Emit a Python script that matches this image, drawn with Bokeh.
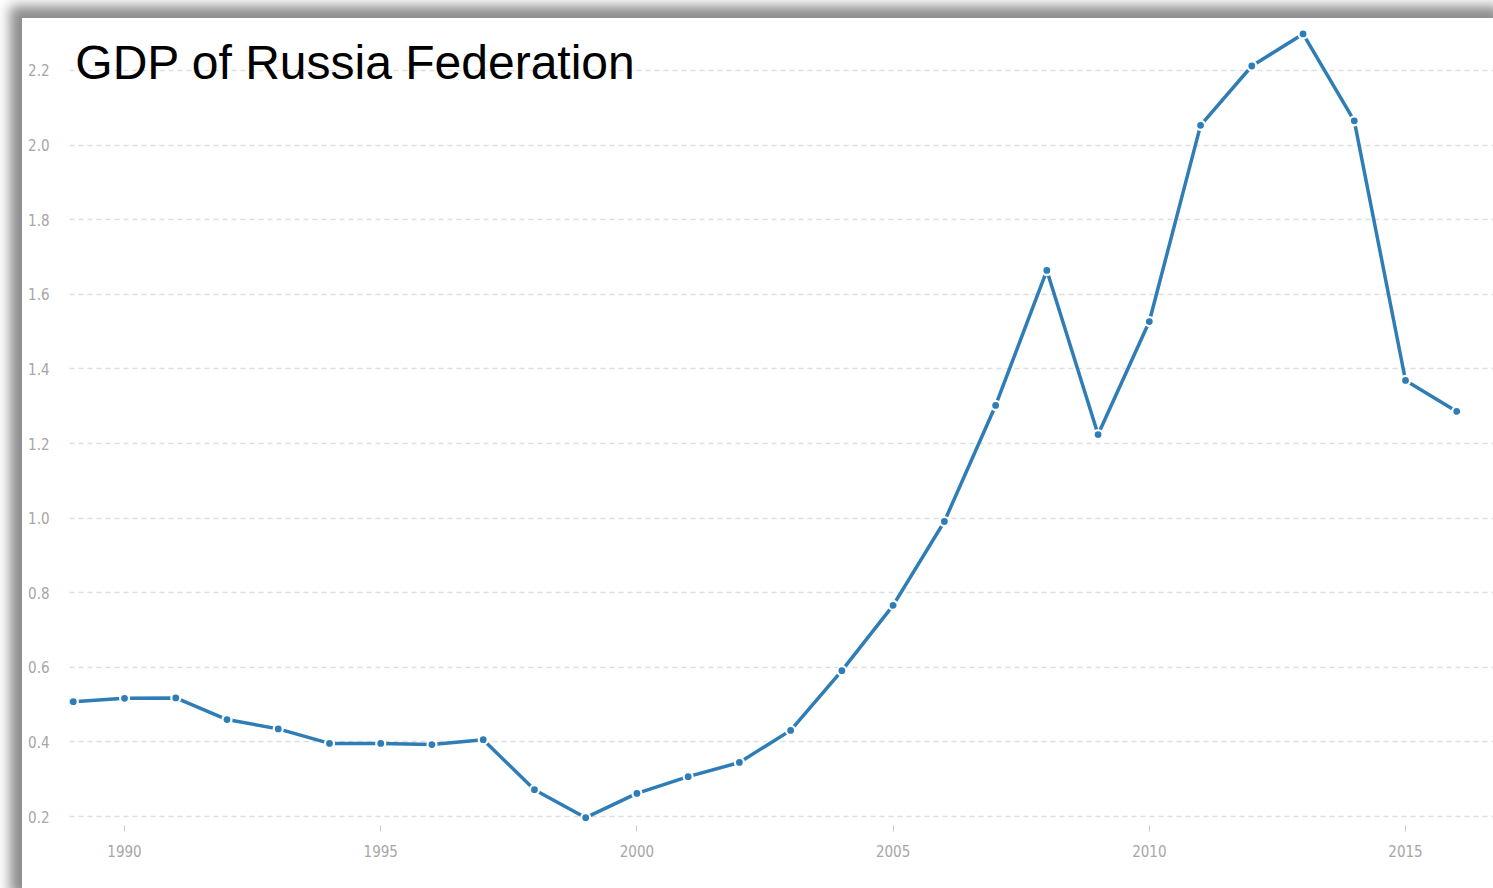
from bokeh.plotting import figure
from bokeh.models import Label, FixedTicker, Range1d
from bokeh.embed import file_html
from bokeh.resources import INLINE

years = list(range(1989, 2017))
gdp = [0.508, 0.517, 0.518, 0.460, 0.435, 0.396, 0.396, 0.393, 0.406, 0.272,
       0.197, 0.262, 0.307, 0.345, 0.431, 0.591, 0.766, 0.991, 1.302, 1.664,
       1.224, 1.527, 2.053, 2.212, 2.298, 2.065, 1.369, 1.286]
x_ticks = [1990, 1995, 2000, 2005, 2010, 2015]
y_ticks = [0.2, 0.4, 0.6, 0.8, 1.0, 1.2, 1.4, 1.6, 1.8, 2.0, 2.2]
y_tick_labels = ["0.2", "0.4", "0.6", "0.8", "1.0", "1.2", "1.4", "1.6", "1.8", "2.0", "2.2"]
title_text = "GDP of Russia Federation"

p = figure(width=1471, height=870, output_backend="svg", toolbar_location=None,
           x_range=Range1d(1988.926, 2016.717), y_range=Range1d(0.176, 2.334),
           min_border_left=47, min_border_right=0, min_border_top=2, min_border_bottom=63)
p.styles = {"margin-left": "22px", "margin-top": "18px",
            "box-shadow": "-2px -2px 12px 10px #8c8c8c"}
p.outline_line_color = None
p.background_fill_color = "white"
p.border_fill_color = "white"

p.xgrid.grid_line_color = None
p.ygrid.grid_line_color = "#dedede"
p.ygrid.grid_line_dash = "5 4"
p.ygrid.grid_line_width = 1.3

tick_font = "DejaVu Sans Condensed"
p.yaxis.ticker = FixedTicker(ticks=y_ticks)
p.yaxis.major_label_overrides = {t: l for t, l in zip(y_ticks, y_tick_labels)}
p.yaxis.axis_line_color = None
p.yaxis.major_tick_line_color = None
p.yaxis.minor_tick_line_color = None
p.yaxis.major_label_standoff = 14
p.yaxis.major_label_text_font = tick_font
p.yaxis.major_label_text_font_size = "15px"
p.yaxis.major_label_text_color = "#a6a6a6"

p.xaxis.ticker = FixedTicker(ticks=x_ticks)
p.xaxis.axis_line_color = None
p.xaxis.major_tick_line_color = "#c8c8c8"
p.xaxis.major_tick_out = 6
p.xaxis.major_tick_in = 0
p.xaxis.minor_tick_line_color = None
p.xaxis.major_label_standoff = 13
p.xaxis.major_label_text_font = tick_font
p.xaxis.major_label_text_font_size = "15px"
p.xaxis.major_label_text_color = "#a6a6a6"

p.line(years, gdp, line_color="#2f7db6", line_width=3.5)
p.scatter(years, gdp, size=9, fill_color="#2f7db6", line_color="white", line_width=2.2)

p.add_layout(Label(x=1989.04, y=2.221, text=title_text, text_font="Liberation Sans",
                   text_font_size="48px", text_color="black", text_baseline="alphabetic"))

open("out.html", "w").write(file_html(p, INLINE))
